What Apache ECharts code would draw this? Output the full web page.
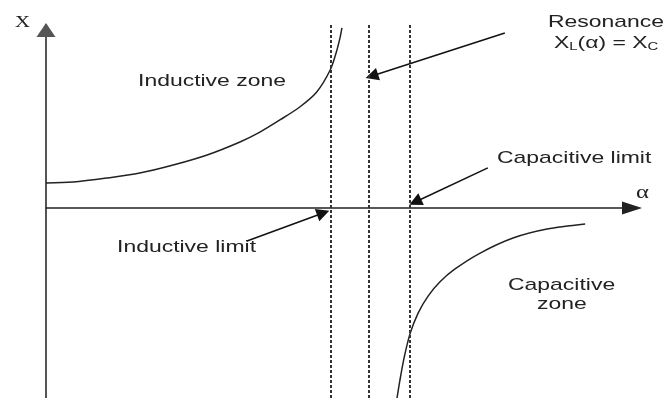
<!DOCTYPE html>
<html>
<head>
<meta charset="utf-8">
<script src="https://cdn.jsdelivr.net/npm/echarts@6/dist/echarts.min.js"></script>
<style>
  html, body { margin: 0; padding: 0; background: #fff; }
  #chart { width: 664px; height: 398px; }
</style>
</head>
<body>
<div id="chart"></div>
<script>
// 感性区曲线 (inductive zone)
const inductiveAlpha = [0.00, 0.46, 1.04, 1.60, 2.17, 2.75, 3.31, 3.65, 3.99, 4.33, 4.62, 4.85, 4.95, 5.02, 5.05]
const inductiveX = [1.37, 1.42, 1.64, 1.91, 2.35, 2.90, 3.61, 4.15, 4.81, 5.52, 6.34, 7.54, 8.47, 9.34, 9.84]

// 容性区曲线 (capacitive zone)
const capacitiveAlpha = [5.99, 6.04, 6.11, 6.21, 6.35, 6.52, 6.72, 6.98, 7.41, 7.97, 8.55, 9.20]
const capacitiveX = [-10.38, -9.40, -8.20, -6.89, -5.74, -4.81, -4.04, -3.33, -2.46, -1.64, -1.15, -0.87]

// inductive limit, resonance, capacitive limit
const limitAlpha = [4.86, 5.51, 6.21]

// 标注箭头 起点 / 终点
const arrowFrom = [[7.83, 9.56], [7.54, 2.19], [3.43, -1.80]]
const arrowTo = [[5.56, 7.21], [6.30, 0.33], [4.73, -0.27]]

const chartEle = document.getElementById("chart")
const chart = echarts.init(chartEle, null, { renderer: "canvas" })

const textColor = "#222"
const sans = "'Liberation Sans', Arial, sans-serif"
const serif = "'Liberation Serif', 'DejaVu Serif', serif"

// 文字 (image is stretched horizontally, so scaleX)
const makeText = (text, x, y, opts = {}) => ({
  type: "text",
  x: x,
  y: y,
  scaleX: opts.scaleX || 1.35,
  style: {
    text: text,
    fontSize: opts.fontSize || 17,
    fontFamily: opts.fontFamily || sans,
    fill: textColor,
    align: opts.align || "left",
    verticalAlign: "middle",
    rich: opts.rich
  }
})

const option = {
  backgroundColor: "#fff",
  animation: false,
  grid: {
    left: 46,
    right: 32,
    top: 25,
    bottom: 0
  },
  xAxis: {
    type: "value",
    min: 0,
    max: 10,
    axisLine: {
      onZero: true,
      symbol: ["none", "triangle"],
      symbolSize: [13, 20],
      symbolOffset: [0, 0],
      lineStyle: { color: "#222", width: 1.5 }
    },
    axisTick: { show: false },
    axisLabel: { show: false },
    splitLine: { show: false }
  },
  yAxis: {
    type: "value",
    min: -10.38,
    max: 10,
    axisLine: {
      onZero: false,
      symbol: ["none", "triangle"],
      symbolSize: [19, 14],
      symbolOffset: [0, -5],
      lineStyle: { color: "#555", width: 2 }
    },
    axisTick: { show: false },
    axisLabel: { show: false },
    splitLine: { show: false }
  },
  series: [
    {
      name: "inductive",
      type: "line",
      data: inductiveAlpha.map((a, i) => [a, inductiveX[i]]),
      symbol: "none",
      smooth: 0.3,
      lineStyle: { color: "#222", width: 1.5 },
      markLine: {
        silent: true,
        symbol: "none",
        label: { show: false },
        lineStyle: { color: "#333", width: 2, type: [3, 2] },
        data: limitAlpha.map((a) => ({ xAxis: a }))
      }
    },
    {
      name: "capacitive",
      type: "line",
      data: capacitiveAlpha.map((a, i) => [a, capacitiveX[i]]),
      symbol: "none",
      smooth: 0.3,
      lineStyle: { color: "#222", width: 1.5 }
    },
    {
      name: "arrows",
      type: "lines",
      coordinateSystem: "cartesian2d",
      symbol: ["none", "triangle"],
      symbolSize: 13,
      lineStyle: { color: "#111", width: 1.5, opacity: 1 },
      data: arrowFrom.map((p, i) => ({ coords: [p, arrowTo[i]] }))
    }
  ],
  graphic: [
    makeText("X", 15, 23, { fontFamily: serif, fontSize: 16, scaleX: 1.3 }),
    makeText("α", 636, 193, { fontFamily: serif, fontSize: 19, scaleX: 1.3 }),
    makeText("Inductive zone", 138, 81),
    makeText("Resonance", 548, 22),
    makeText("X{s|L}(α) = X{s|C}", 554, 43, {
      rich: {
        s: { fontSize: 11, fontFamily: sans, fill: textColor, verticalAlign: "bottom", padding: [8, 0, 0, 0] }
      }
    }),
    makeText("Capacitive limit", 497, 158),
    makeText("Inductive limit", 117, 247),
    makeText("Capacitive", 508, 285),
    makeText("zone", 562, 304, { align: "center" })
  ]
}

chart.setOption(option)
</script>
</body>
</html>
